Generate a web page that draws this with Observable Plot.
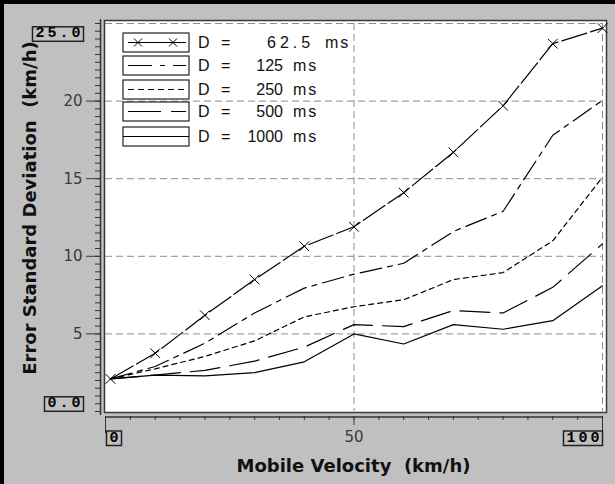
<!DOCTYPE html>
<html><head><meta charset="utf-8">
<script src="https://cdn.jsdelivr.net/npm/d3@7"></script>
<script src="https://cdn.jsdelivr.net/npm/@observablehq/plot@0.6"></script>
<style>
html,body{margin:0;padding:0;background:#c0c0c0;}
#chart{position:relative;width:615px;height:484px;overflow:hidden;background:#c0c0c0;}
svg{display:block;}
</style></head><body><div id="chart"></div>
<script>
// ---- data ----
const velocity = [1, 10, 20, 30, 40, 50, 60, 70, 80, 90, 100];
const sd62 = [2.1, 3.75, 6.2, 8.5, 10.65, 11.9, 14.1, 16.7, 19.7, 23.7, 24.7];
const sd125 = [2.1, 2.9, 4.4, 6.35, 7.95, 8.85, 9.55, 11.6, 12.9, 17.8, 20.05];
const sd250 = [2.1, 2.75, 3.55, 4.55, 6.1, 6.75, 7.2, 8.5, 8.95, 11.0, 15.1];
const sd500 = [2.1, 2.35, 2.65, 3.25, 4.15, 5.6, 5.47, 6.5, 6.35, 8.0, 10.8];
const sd1000 = [2.1, 2.35, 2.3, 2.5, 3.2, 5.0, 4.35, 5.6, 5.3, 5.85, 8.1];
const durations = ["62.5", "125", "250", "500", "1000"];
const yMajorTicks = [5, 10, 15, 20];
const yGrid = [5, 10, 15, 20, 25];
const xGrid = [50, 100];
const xLabelTicks = [50];
const yEndLabels = ["0.0", "25.0"];
const xEndLabels = ["0", "100"];
const xTitle = "Mobile Velocity  (km/h)";
const yTitle = "Error Standard Deviation  (km/h)";

// ---- styles ----
const plotDash = ["26,4", "22,6,5,6", "5,4", "30,10", null];
const legendDash = [null, "24,8,5,8", "6,4", "33,10", null];

const series = [sd62, sd125, sd250, sd500, sd1000];
const rows = durations.map((d, k) => velocity.map((v, i) => ({velocity: v, sd: series[k][i], D: d})));

const boxFont = {fontFamily: "Liberation Mono, monospace", fontWeight: "bold", fontSize: 15, fill: "black"};
const tickFont = {fontFamily: "DejaVu Sans, sans-serif", fontSize: 15};

const svg = Plot.plot({
  width: 615, height: 484,
  marginLeft: 105, marginRight: 13, marginTop: 23, marginBottom: 73,
  style: {background: "transparent", fontFamily: "DejaVu Sans, sans-serif", fontSize: "15px", overflow: "visible"},
  x: {domain: [0, 100], label: null},
  y: {domain: [0, 25], label: null},
  marks: [
    Plot.frame({fill: "white", stroke: "#3a3a3a", strokeWidth: 1.5, insetTop: -3, insetRight: -4, insetLeft: -1, insetBottom: -1}),
    Plot.ruleY(yGrid, {stroke: "#8c8c8c", strokeDasharray: "7,4"}),
    Plot.ruleX(xGrid, {stroke: "#8c8c8c", strokeDasharray: "7,4"}),
    ...rows.map((r, k) => Plot.line(r, {x: "velocity", y: "sd", stroke: "black", strokeWidth: 1.2, strokeDasharray: plotDash[k]})),
    Plot.dot(rows[0], {x: "velocity", y: "sd", symbol: "times", r: 4.5, stroke: "black", strokeWidth: 1}),
    // y axis
    Plot.ruleX([0], {dx: -5, insetTop: -4, insetBottom: -4, stroke: "#333", strokeWidth: 1.5}),
    Plot.axisY({ticks: d3.range(0, 25.01, 0.5), tickSize: 5, dx: -5, tickFormat: () => "", color: "#333", label: null}),
    Plot.axisY({ticks: yMajorTicks, tickSize: 14, tickPadding: 4, dx: -5, color: "#3a3a3a", ...tickFont, label: null}),
    Plot.text([yEndLabels[1]], {y: () => 25, text: d => d, frameAnchor: "left", dx: -22, dy: 9, textAnchor: "end", ...boxFont}),
    Plot.text([yEndLabels[0]], {y: () => 0, text: d => d, frameAnchor: "left", dx: -22, dy: -9, textAnchor: "end", ...boxFont}),
    // x axis
    Plot.ruleY([0], {dy: 5.5, stroke: "#333", strokeWidth: 1.5}),
    Plot.axisX({ticks: d3.range(0, 101, 5), tickSize: 4, dy: 5, tickFormat: () => "", color: "#333", label: null}),
    Plot.axisX({ticks: xLabelTicks, tickSize: 9, dy: 5, tickPadding: 6, color: "#3a3a3a", ...tickFont, label: null}),
    Plot.axisX({ticks: [0, 100], tickSize: 17, dy: 5, tickFormat: () => "", color: "#333", label: null}),
    Plot.text([xEndLabels[0]], {x: () => 0, text: d => d, frameAnchor: "bottom", dx: 4, dy: 30, textAnchor: "start", ...boxFont}),
    Plot.text([xEndLabels[1]], {x: () => 100, text: d => d, frameAnchor: "bottom", dx: 0, dy: 30, textAnchor: "end", ...boxFont})
  ]
});
document.getElementById("chart").append(svg);

const S = d3.select(svg);
const xs = svg.scale("x"), ys = svg.scale("y");

// boxes around the end labels
const boxed = new Set([...yEndLabels, ...xEndLabels]);
const boxedTexts = S.selectAll("text").filter(function () { return boxed.has(this.textContent); });
boxedTexts.each(function () { this.style.letterSpacing = "3px"; });
boxedTexts.each(function () {
  const n = this.getNumberOfChars();
  const s = this.getStartPositionOfChar(0), e = this.getEndPositionOfChar(n - 1);
  const b = this.getBBox();
  const m = svg.getScreenCTM().inverse().multiply(this.getScreenCTM());
  const p = svg.createSVGPoint();
  p.x = s.x; p.y = b.y; const a = p.matrixTransform(m);
  p.x = e.x - 3; p.y = b.y + b.height; const c = p.matrixTransform(m);
  S.append("rect").attr("x", a.x - 3).attr("y", a.y + 1.5).attr("width", c.x - a.x + 6).attr("height", c.y - a.y - 2.5)
    .attr("fill", "none").attr("stroke", "#222").attr("stroke-width", 1.5);
});

// axis titles
S.append("text").attr("x", xs.apply(50)).attr("y", 472).attr("text-anchor", "middle")
  .style("font", "bold 18px 'DejaVu Sans', sans-serif").style("white-space", "pre").attr("fill", "#111").text(xTitle);
S.append("text").attr("transform", `translate(36,${(ys.apply(0) + ys.apply(25)) / 2 - 9}) rotate(-90)`).attr("text-anchor", "middle")
  .style("font", "bold 18px 'DejaVu Sans', sans-serif").style("white-space", "pre").attr("fill", "#111").text(yTitle);

// legend
const L = S.append("g").attr("text-anchor", "start");
const boxX = 123, boxW = 66, rowTop = [33, 56, 80, 102, 127], boxH = 19;
durations.forEach((d, k) => {
  const cy = rowTop[k] + boxH / 2;
  L.append("rect").attr("x", boxX).attr("y", rowTop[k]).attr("width", boxW).attr("height", boxH)
    .attr("fill", "white").attr("stroke", "#222").attr("stroke-width", 1.2);
  L.append("line").attr("x1", boxX + (k === 4 ? 0 : 5)).attr("x2", boxX + boxW - (k === 4 ? 0 : 3)).attr("y1", cy).attr("y2", cy)
    .attr("stroke", "black").attr("stroke-width", 1.2).attr("stroke-dasharray", legendDash[k]);
  if (k === 0) {
    [boxX + 15, boxX + 50].forEach(mx => {
      L.append("path").attr("d", `M${mx - 4},${cy - 4}L${mx + 4},${cy + 4}M${mx - 4},${cy + 4}L${mx + 4},${cy - 4}`)
        .attr("stroke", "black").attr("stroke-width", 1);
    });
  }
  const base = rowTop[k] + 15;
  const g = L.append("g").style("font", "16px 'Liberation Sans', Arial, sans-serif").attr("fill", "#111");
  g.append("text").attr("x", 198).attr("y", base).attr("text-anchor", "start").text("D");
  g.append("text").attr("x", 221).attr("y", base).attr("text-anchor", "start").text("=");
  const dec = d.includes(".");
  g.append("text").attr("x", dec ? 267 : 283).attr("y", base).attr("text-anchor", dec ? "start" : "end")
    .style("letter-spacing", dec ? "4px" : null).text(d);
  g.append("text").attr("x", dec ? 325 : 293).attr("y", base).attr("text-anchor", "start")
    .style("letter-spacing", "2px").text("ms");
});

// sunken top/left border
S.append("rect").attr("x", 0).attr("y", 0).attr("width", 615).attr("height", 4).attr("fill", "black");
S.append("rect").attr("x", 0).attr("y", 0).attr("width", 4).attr("height", 484).attr("fill", "black");
</script></body></html>
